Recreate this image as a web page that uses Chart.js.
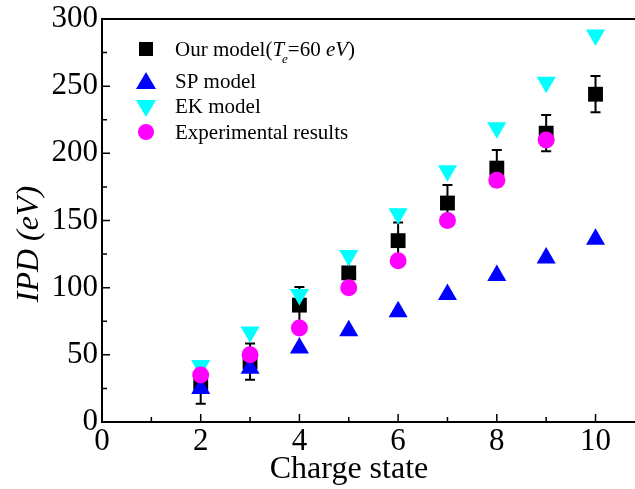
<!DOCTYPE html>
<html>
<head>
<meta charset="utf-8">
<script src="https://cdn.jsdelivr.net/npm/chart.js@4.4.0/dist/chart.umd.min.js"></script>
<style>
  html, body { margin: 0; padding: 0; background: #fff; }
  #wrap { width: 635px; height: 489px; position: relative; }
</style>
</head>
<body>
<div id="wrap"><canvas id="ipdChart"></canvas></div>
<script>
// charge states
const chargeStates = [2, 3, 4, 5, 6, 7, 8, 9, 10];
const expStates = [2, 3, 4, 5, 6, 7, 8, 9];

// IPD values (eV)
const ourModel = [27, 45, 87, 111, 135, 163, 189, 215, 244];
const ourErr = [13.5, 13.5, 13.5, 13.5, 13.5, 13.5, 13.5, 13.5, 13.5];
const spModel = [25, 40, 55, 68, 82, 95, 109, 122, 136];
const ekModel = [42, 67, 95, 124, 155, 187, 219, 253, 288];
const expResults = [35, 50, 70, 100, 120, 150, 180, 210];

const xTicks = [0, 2, 4, 6, 8, 10];
const yTicks = [0, 50, 100, 150, 200, 250, 300];

const serif = "'Liberation Serif', 'Times New Roman', serif";
const pts = (xs, ys) => xs.map((x, i) => ({ x: x, y: ys[i] }));

// inward ticks, top border, error bars, legend, axis titles
const decor = {
    id: 'decor',
    beforeDatasetsDraw(chart) {
        const ctx = chart.ctx, xs = chart.scales.x, ys = chart.scales.y;
        ctx.save();
        ctx.strokeStyle = '#000';
        ctx.lineWidth = 2;
        chargeStates.forEach((c, i) => {
            const px = xs.getPixelForValue(c);
            const top = ys.getPixelForValue(ourModel[i] + ourErr[i]);
            const bot = ys.getPixelForValue(ourModel[i] - ourErr[i]);
            ctx.beginPath();
            ctx.moveTo(px, top); ctx.lineTo(px, bot);
            ctx.moveTo(px - 5, top); ctx.lineTo(px + 5, top);
            ctx.moveTo(px - 5, bot); ctx.lineTo(px + 5, bot);
            ctx.stroke();
        });
        ctx.restore();
    },
    afterDraw(chart) {
        const ctx = chart.ctx, a = chart.chartArea, xs = chart.scales.x, ys = chart.scales.y;
        ctx.save();
        ctx.strokeStyle = '#000';
        ctx.lineWidth = 2;
        // top border
        ctx.beginPath();
        ctx.moveTo(a.left - 1, a.top); ctx.lineTo(a.right, a.top);
        ctx.stroke();
        // ticks
        ctx.lineWidth = 1.5;
        ctx.beginPath();
        for (let v = 0; v <= 300; v += 25) {
            const py = ys.getPixelForValue(v);
            const len = v % 50 === 0 ? 8 : 5;
            ctx.moveTo(a.left, py); ctx.lineTo(a.left + len, py);
        }
        for (let v = 1; v <= 10; v += 1) {
            const px = xs.getPixelForValue(v);
            const len = v % 2 === 0 ? 8 : 5;
            ctx.moveTo(px, a.bottom); ctx.lineTo(px, a.bottom - len);
        }
        ctx.stroke();

        // legend
        const lx = 146, tx = 175;
        const rows = [49, 82, 107, 132];
        ctx.fillStyle = '#000';
        ctx.fillRect(lx - 7, rows[0] - 7, 14, 14);
        ctx.fillStyle = '#0000ff';
        ctx.beginPath();
        ctx.moveTo(lx, rows[1] - 10); ctx.lineTo(lx + 10, rows[1] + 7); ctx.lineTo(lx - 10, rows[1] + 7);
        ctx.fill();
        ctx.fillStyle = '#00ffff';
        ctx.beginPath();
        ctx.moveTo(lx, rows[2] + 10); ctx.lineTo(lx + 10, rows[2] - 7); ctx.lineTo(lx - 10, rows[2] - 7);
        ctx.fill();
        ctx.fillStyle = '#ff00ff';
        ctx.beginPath();
        ctx.arc(lx, rows[3], 8, 0, Math.PI * 2);
        ctx.fill();

        ctx.fillStyle = '#000';
        ctx.textAlign = 'left';
        ctx.textBaseline = 'alphabetic';
        const up = '21px ' + serif, it = 'italic 21px ' + serif, sub = 'italic 13px ' + serif;
        let x = tx;
        const seg = (t, f) => { ctx.font = f; ctx.fillText(t, x, 56); x += ctx.measureText(t).width; };
        seg('Our model(', up);
        seg('T', it);
        ctx.font = sub; ctx.fillText('e', x - 2, 63);
        x += ctx.measureText('e').width - 2;
        seg('=60 ', up);
        seg('eV', it);
        seg(')', up);
        ctx.font = up;
        ctx.fillText('SP model', tx, 88);
        ctx.fillText('EK model', tx, 113);
        ctx.fillText('Experimental results', tx, 139);

        // axis titles
        ctx.font = '32px ' + serif;
        ctx.textAlign = 'center';
        ctx.fillText('Charge state', 349, 478);
        ctx.save();
        ctx.translate(30, 244);
        ctx.rotate(-Math.PI / 2);
        ctx.font = 'italic 32px ' + serif;
        ctx.textBaseline = 'middle';
        ctx.fillText('IPD (eV)', 0, 0);
        ctx.restore();
        ctx.restore();
    }
};

new Chart(document.getElementById('ipdChart'), {
    type: 'scatter',
    data: {
        datasets: [
            { label: 'Experimental results', data: pts(expStates, expResults), pointStyle: 'circle',
              pointRadius: 8.5, backgroundColor: '#ff00ff', borderWidth: 0, order: 0 },
            { label: 'EK model', data: pts(chargeStates, ekModel), pointStyle: 'triangle', rotation: 180,
              pointRadius: 11, backgroundColor: '#00ffff', borderWidth: 0, order: 1 },
            { label: 'SP model', data: pts(chargeStates, spModel), pointStyle: 'triangle',
              pointRadius: 11, backgroundColor: '#0000ff', borderWidth: 0, order: 2 },
            { label: 'Our model', data: pts(chargeStates, ourModel), pointStyle: 'rect',
              pointRadius: 10.5, backgroundColor: '#000', borderWidth: 0, order: 3 }
        ]
    },
    options: {
        responsive: true,
        maintainAspectRatio: false,
        animation: false,
        layout: { autoPadding: false, padding: { top: 19, right: 0, left: 0, bottom: 0 } },
        plugins: { legend: { display: false }, tooltip: { enabled: false } },
        elements: { point: { hoverRadius: 0 } },
        scales: {
            x: {
                type: 'linear', min: 0, max: 10.8,
                grid: { display: false, tickLength: 0 },
                border: { display: true, color: '#000', width: 2 },
                afterBuildTicks: s => { s.ticks = xTicks.map(v => ({ value: v })); },
                afterFit: s => { s.height = 67; s.paddingLeft = 0; s.paddingRight = 0; },
                ticks: { color: '#000', padding: 1, font: { family: serif, size: 31 } }
            },
            y: {
                min: 0, max: 300,
                grid: { display: false, tickLength: 0 },
                border: { display: true, color: '#000', width: 2 },
                afterBuildTicks: s => { s.ticks = yTicks.map(v => ({ value: v })); },
                afterFit: s => { s.width = 102; s.paddingTop = 0; s.paddingBottom = 0; },
                ticks: { color: '#000', padding: 4, font: { family: serif, size: 31 } }
            }
        }
    },
    plugins: [decor]
});
</script>
</body>
</html>
